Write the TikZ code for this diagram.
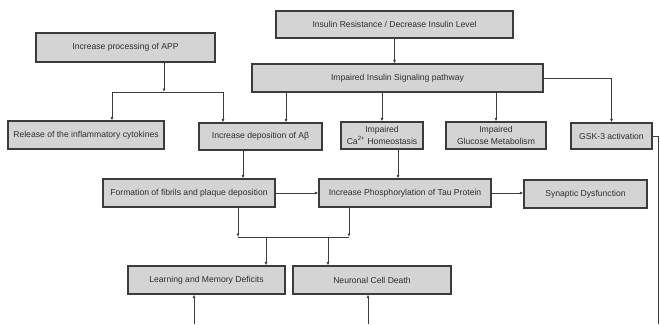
\documentclass[tikz,border=0pt]{standalone}
\usepackage{fontspec}
\setmainfont{Liberation Sans}
\usepackage{tikz}
\usetikzlibrary{calc,positioning,arrows.meta}

\definecolor{boxfill}{HTML}{D4D4D4}
\definecolor{boxline}{HTML}{3C3C3C}
\definecolor{boxtext}{HTML}{2E2E2E}
\tikzset{
    box/.style={draw=boxline, fill=boxfill, line width=1.2pt, inner sep=0pt, align=center,
                text=boxtext, font=\fontsize{8.6}{11.5}\selectfont},
    link/.style={draw=boxline, line width=0.9pt},
}

\begin{document}
\begin{tikzpicture}[x=1pt, y=-1pt, >={Latex[length=3.5pt,width=3pt]}]
                \useasboundingbox (0,0) rectangle (660,324);
                \node[box, minimum width=237pt, minimum height=27pt] (ins)   at (394.5,24.5) {Insulin Resistance / Decrease Insulin Level};
                \node[box, minimum width=179pt, minimum height=29pt] (app)   at (125.5,47.5) {Increase processing of APP};
                \node[box, minimum width=291pt, minimum height=28pt] (sig)   at (397.5,78)   {Impaired Insulin Signaling pathway};
                \node[box, minimum width=156pt, minimum height=28pt] (rel)   at (86,135)     {Release of the inflammatory cytokines};
                \node[box, minimum width=123pt, minimum height=27pt] (abeta) at (260.5,136.5) {Increase deposition of Aβ};
                \node[box, minimum width=82pt,  minimum height=27pt] (ca)    at (382,135.5)  {Impaired\\Ca\textsuperscript{2+} Homeostasis};
                \node[box, minimum width=100pt, minimum height=27pt] (glu)   at (496,135.5)  {Impaired\\Glucose Metabolism};
                \node[box, minimum width=81pt,  minimum height=26pt] (gsk)   at (611.5,136)  {GSK-3 activation};
                \node[box, minimum width=172pt, minimum height=28pt] (fib)   at (189,193)    {Formation of fibrils and plaque deposition};
                \node[box, minimum width=172pt, minimum height=28pt] (tau)   at (405,193)    {Increase Phosphorylation of Tau Protein};
                \node[box, minimum width=123pt, minimum height=28pt] (syn)   at (585.5,194)  {Synaptic Dysfunction};
                \node[box, minimum width=157pt, minimum height=28pt] (learn) at (206.5,280)  {Learning and Memory Deficits};
                \node[box, minimum width=158pt, minimum height=28pt] (neur)  at (372,280)    {Neuronal Cell Death};
                % junctions and free ends
                \coordinate (jA) at (164,92);
                \coordinate (jB) at (238,237);
                \coordinate (jC) at (349,237);
                \coordinate (a1) at ([xshift=25.5]abeta.north);
                \coordinate (a2) at ([xshift=-17.5]abeta.south);
                \coordinate (a3) at ([xshift=16]ca.south);
                \coordinate (a4) at ([xshift=59.5]learn.north);
                \coordinate (a5) at ([xshift=-44]neur.north);
                \coordinate (gq) at (658,324);
                \coordinate (b1) at (194,324);
                \coordinate (b2) at (368,324);
                \draw[->, link] (ins.south) -- (ins.south |- sig.north);
                \draw[->, link] (app.south -| jA) -- (jA);
                \draw[->, link] (jA) -| ([xshift=26]rel.north);
                \draw[->, link] (jA) -| ([xshift=-37.5]abeta.north);
                \draw[->, link] (sig.south -| a1) -- (a1);
                \draw[->, link] (sig.south -| ca.north) -- (ca.north);
                \draw[->, link] (sig.south -| glu.north) -- (glu.north);
                \draw[->, link] (sig.east) -| (gsk.north);
                \draw[link]     (gsk.east) -| (gq);
                \draw[->, link] (a2) -- (a2 |- fib.north);
                \draw[->, link] (a3) -- (a3 |- tau.north);
                \draw[->, link] (fib.east) -- (fib.east -| tau.west);
                \draw[->, link] (tau.east) -- (tau.east -| syn.west);
                \draw[->, link] ([xshift=49]fib.south) -- (jB);
                \draw[->, link] ([xshift=-56]tau.south) -- (jC);
                \draw[link]     (jB) -- (jC);
                \draw[->, link] (a4 |- jB) -- (a4);
                \draw[->, link] (a5 |- jB) -- (a5);
                \draw[->, link] (b1) -- (b1 |- learn.south);
                \draw[->, link] (b2) -- (b2 |- neur.south);
            \end{tikzpicture}
\end{document}
